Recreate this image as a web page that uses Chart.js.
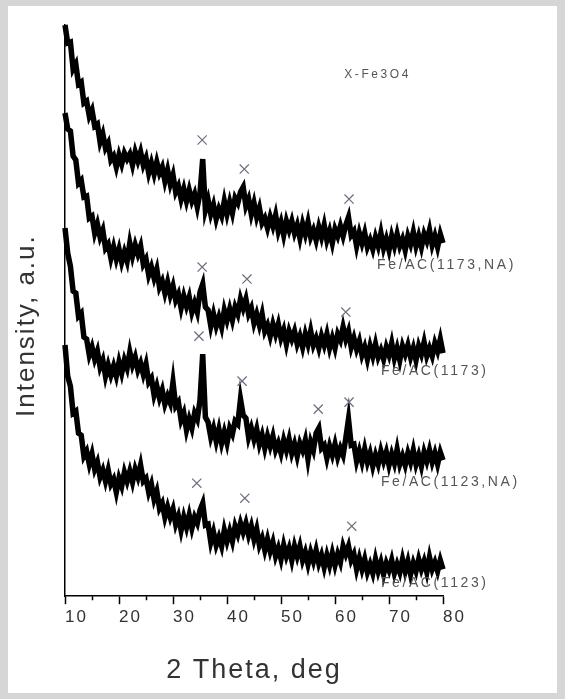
<!DOCTYPE html>
<html>
<head>
<meta charset="utf-8">
<title>XRD Fe/AC</title>
<script src="https://cdn.jsdelivr.net/npm/chart.js@4.4.1/dist/chart.umd.min.js"></script>
<style>
  html, body { margin: 0; padding: 0; }
  body { width: 565px; height: 699px; background: #d6d6d6; position: relative; overflow: hidden; }
  #paper { position: absolute; left: 8px; top: 6px; width: 549px; height: 687px; background: #fff; }
  #wrap { position: absolute; left: 0; top: 0; width: 565px; height: 699px; }
</style>
</head>
<body>
<div id="paper"></div>
<div id="wrap"><canvas id="xrd"></canvas></div>
<script>
// 2 theta grid, deg
const twoTheta = [
  10,10.5,11,11.5,12,12.5,13,13.5,14,14.5,15,15.5,16,16.5,17,17.5,18,18.5,19,19.5,
  20,20.5,21,21.5,22,22.5,23,23.5,24,24.5,25,25.5,26,26.5,27,27.5,28,28.5,29,29.5,
  30,30.5,31,31.5,32,32.5,33,33.5,34,34.5,35,35.5,36,36.5,37,37.5,38,38.5,39,39.5,
  40,40.5,41,41.5,42,42.5,43,43.5,44,44.5,45,45.5,46,46.5,47,47.5,48,48.5,49,49.5,
  50,50.5,51,51.5,52,52.5,53,53.5,54,54.5,55,55.5,56,56.5,57,57.5,58,58.5,59,59.5,
  60,60.5,61,61.5,62,62.5,63,63.5,64,64.5,65,65.5,66,66.5,67,67.5,68,68.5,69,69.5,
  70,70.5,71,71.5,72,72.5,73,73.5,74,74.5,75,75.5,76,76.5,77,77.5,78,78.5,79,79.5,80
];

// intensities (a.u., already stacked)
const fe1173NA = [
  571,553,554,527,532,512,514,493,495,480, 486,470,472,454,462,448,453,436,440,429,
  441,432,443,437,442,431,444,435,444,431, 438,423,433,422,434,423,429,415,426,412,
  421,404,410,397,407,395,406,395,402,389, 403,437,386,396,382,391,377,387,380,395,
  382,394,383,398,393,404,409,390,397,382, 393,379,388,373,378,368,379,370,381,365,
  374,361,375,366,375,363,371,358,372,362, 374,359,366,356,369,359,371,356,365,353,
  367,360,370,360,371,379,361,365,350,363, 353,363,349,356,347,359,350,363,348,357,
  346,360,350,362,350,357,346,360,352,364, 350,360,349,362,355,366,351,360,349,362, 353
];
const fe1173 = [
  483,467,465,440,436,413,416,399,400,378, 380,363,372,359,366,348,352,338,349,337,
  347,334,344,335,353,340,351,342,350,332, 337,321,329,318,327,309,315,303,314,301,
  310,296,302,288,300,290,299,284,293,284, 304,312,289,286,270,282,270,279,269,286,
  276,287,276,289,282,297,288,297,282,288, 273,282,271,282,265,271,260,272,262,272,
  258,266,252,265,257,265,252,260,249,262, 252,265,251,258,248,260,251,262,248,258,
  248,262,256,269,257,265,249,258,247,255, 241,249,237,250,240,252,239,246,237,249,
  241,253,238,248,236,250,242,251,239,248, 236,250,242,254,240,248,240,253,245,257, 243
];
const fe1123NA = [
  368,343,330,305,303,280,283,259,257,241, 249,237,245,229,236,220,231,221,230,220,
  234,223,236,228,244,231,239,226,233,222, 232,214,218,201,210,198,206,192,200,193,
  214,190,194,176,183,166,177,168,183,177, 196,242,179,174,159,168,155,167,153,164,
  153,168,162,175,172,197,181,178,159,168, 157,167,152,161,148,160,150,160,146,153,
  143,156,146,157,143,152,140,153,146,156, 137,154,146,163,168,148,151,138,150,141,
  152,139,148,141,158,177,151,152,135,145, 134,147,134,143,130,141,132,145,135,144,
  131,142,133,147,132,140,131,143,134,146, 132,141,130,144,135,146,134,143,132,144, 136
];
const fe1123 = [
  251,220,210,183,185,163,161,140,145,132, 142,127,134,119,126,115,126,112,117,104,
  118,110,124,115,125,114,127,119,131,115, 118,104,112,97,105,88,93,79,89,79,
  87,72,80,66,79,69,81,68,79,73, 86,93,71,72,54,64,51,59,50,66,
  55,65,55,70,62,73,64,73,61,70, 57,67,51,58,46,57,45,54,40,48,
  37,51,40,48,36,50,40,50,36,44, 32,44,35,46,33,41,29,41,31,43,
  31,42,34,50,42,50,36,42,27,38, 27,37,24,32,23,37,25,34,22,33,
  26,36,23,32,24,37,25,35,22,33, 25,37,27,35,24,39,27,34,25,36, 27
];

const sampleNames = ['Fe/AC(1173,NA)', 'Fe/AC(1173)', 'Fe/AC(1123,NA)', 'Fe/AC(1123)'];

// Fe3O4 reflections marked with x
const markAngle = [35.4, 43.2, 62.6, 35.4, 43.7, 62.0, 34.8, 42.8, 56.9, 62.6, 34.4, 43.3, 63.1];
const markLevel = [456, 427, 397, 329, 317, 284, 260, 215, 187, 194, 113, 98, 70];

const minorTicks = [15, 25, 35, 45, 55, 65, 75];

const FONT = '"Liberation Sans", Arial, sans-serif';

// where the sample names sit, in data units (deg, a.u.)
const nameAnchors = [[67.8, 331], [68.5, 225], [68.5, 114], [68.5, 13]];

const xrdText = {
    id: 'xrdText',
    beforeDraw(chart) {
        chart.ctx.letterSpacing = '2px';
    },
    afterDatasetsDraw(chart) {
        const { ctx, scales: { x, y } } = chart;
        ctx.save();
        ctx.fillStyle = '#555';
        ctx.textBaseline = 'middle';
        ctx.textAlign = 'left';
        ctx.letterSpacing = '2.6px';
        ctx.font = '14px ' + FONT;
        sampleNames.forEach((name, i) => {
            const [deg, val] = nameAnchors[i];
            ctx.fillText(name, x.getPixelForValue(deg), y.getPixelForValue(val));
        });
        ctx.font = '12px ' + FONT;
        ctx.fillText('X-Fe3O4', x.getPixelForValue(61.7), y.getPixelForValue(521));
        ctx.restore();

        // minor ticks, shorter than the labelled ones
        ctx.save();
        ctx.strokeStyle = '#000';
        ctx.lineWidth = 1.5;
        ctx.beginPath();
        minorTicks.forEach(v => {
            const px = Math.round(x.getPixelForValue(v)) + 0.5;
            ctx.moveTo(px, y.bottom);
            ctx.lineTo(px, y.bottom + 4);
        });
        ctx.stroke();
        ctx.restore();

        // y title, a bit below the middle of the axis like the original
        ctx.save();
        ctx.translate(27, (y.top + y.bottom) / 2 + 15);
        ctx.rotate(-Math.PI / 2);
        ctx.textAlign = 'center';
        ctx.textBaseline = 'middle';
        ctx.letterSpacing = '2px';
        ctx.fillStyle = '#333';
        ctx.font = '26px ' + FONT;
        ctx.fillText('Intensity, a.u.', 0, 0);
        ctx.restore();
    }
};

function toPoints(vals) {
    return vals.map((v, i) => ({ x: twoTheta[i], y: v }));
}

const traceStyle = {
    type: 'line',
    borderColor: '#000',
    borderWidth: 5.5,
    pointRadius: 0,
    tension: 0,
    fill: false,
    clip: 4
};

new Chart(document.getElementById('xrd'), {
    data: {
        datasets: [
            {
                type: 'scatter',
                label: 'Fe3O4',
                data: markAngle.map((a, i) => ({ x: a, y: markLevel[i] })),
                pointStyle: 'crossRot',
                pointRadius: 6.5,
                borderColor: '#6e6e7e',
                borderWidth: 1.2,
                showLine: false
            },
            { ...traceStyle, label: sampleNames[0], data: toPoints(fe1173NA) },
            { ...traceStyle, label: sampleNames[1], data: toPoints(fe1173) },
            { ...traceStyle, label: sampleNames[2], data: toPoints(fe1123NA) },
            { ...traceStyle, label: sampleNames[3], data: toPoints(fe1123) }
        ]
    },
    options: {
        responsive: true,
        maintainAspectRatio: false,
        animation: false,
        layout: { padding: { left: 57, right: 122, top: 25, bottom: 12 } },
        plugins: {
            legend: { display: false },
            tooltip: { enabled: false }
        },
        scales: {
            x: {
                type: 'linear',
                min: 10,
                max: 80,
                grid: { display: true, drawOnChartArea: false, drawTicks: true, tickLength: 8, tickColor: '#000', tickWidth: 1.5 },
                border: { display: true, color: '#000', width: 1.5 },
                ticks: {
                    stepSize: 10,
                    align: 'start',
                    padding: 3,
                    color: '#333',
                    font: { size: 17, family: FONT }
                },
                title: {
                    display: true,
                    text: '2 Theta, deg',
                    color: '#333',
                    font: { size: 27, family: FONT },
                    padding: { top: 24, bottom: 0 }
                }
            },
            y: {
                min: 0,
                max: 571,
                grid: { display: false },
                border: { display: true, color: '#000', width: 1.5 },
                ticks: { display: false },
                title: { display: false }
            }
        }
    },
    plugins: [xrdText]
});
</script>
</body>
</html>
